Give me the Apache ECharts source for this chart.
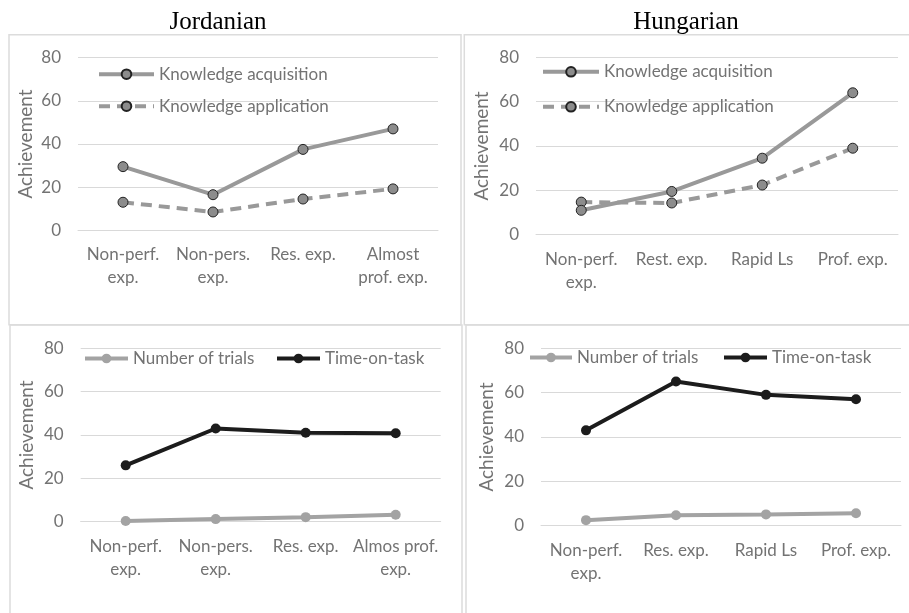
<!DOCTYPE html>
<html>
<head>
<meta charset="utf-8">
<script src="https://cdn.jsdelivr.net/npm/echarts@6/dist/echarts.min.js"></script>
<style>
  html, body { margin: 0; padding: 0; background: #fff; }
  #chart { width: 909px; height: 613px; }
</style>
</head>
<body>
<div id="chart"></div>
<script>
// Category labels per panel
const jorCatsTop = ['Non-perf.\nexp.', 'Non-pers.\nexp.', 'Res. exp.', 'Almost\nprof. exp.'];
const hunCatsTop = ['Non-perf.\nexp.', 'Rest. exp.', 'Rapid Ls', 'Prof. exp.'];
const jorCatsBottom = ['Non-perf.\nexp.', 'Non-pers.\nexp.', 'Res. exp.', 'Almos prof.\nexp.'];
const hunCatsBottom = ['Non-perf.\nexp.', 'Res. exp.', 'Rapid Ls', 'Prof. exp.'];

// Achievement values
const jorAcquisition = [29.5, 16.5, 37.5, 47];
const jorApplication = [13, 8.5, 14.5, 19.2];
const hunAcquisition = [11, 19.5, 34.5, 64];
const hunApplication = [14.7, 14.3, 22.4, 39];
const jorTrials = [0.3, 1.2, 2.1, 3.2];
const jorTime = [26, 43, 41, 40.8];
const hunTrials = [2.5, 4.7, 5.1, 5.6];
const hunTime = [43, 65, 59, 57];

// Shared y ticks
const yMin = 0, yMax = 80, yStep = 20;

const FONT = 'Lato';
const TEXT = '#737373';
const GRID_LINE = '#d9d9d9';
const GRAY_LINE = '#999999';
const GRAY_MARK = '#8c8c8c';
const LIGHT_GRAY = '#a3a3a3';
const DARK = '#1c1c1c';

const grids = [
  { left: 78, top: 57.7, width: 360, height: 172.6 },
  { left: 536, top: 57.3, width: 362, height: 177.4 },
  { left: 80.7, top: 348.3, width: 360, height: 173.4 },
  { left: 541, top: 348.3, width: 360, height: 177.4 }
];
const nameGaps = [43, 45, 44, 45];
const cats = [jorCatsTop, hunCatsTop, jorCatsBottom, hunCatsBottom];

const xAxes = cats.map((c, i) => ({
  type: 'category', gridIndex: i, data: c, boundaryGap: true,
  axisLine: { lineStyle: { color: GRID_LINE, width: 1 } },
  axisTick: { show: false },
  axisLabel: { interval: 0, color: TEXT, fontFamily: FONT, fontSize: 17, lineHeight: 23, margin: 13 }
}));
const yAxes = grids.map((g, i) => ({
  type: 'value', gridIndex: i, min: yMin, max: yMax, interval: yStep,
  name: 'Achievement', nameLocation: 'middle', nameRotate: 90, nameGap: nameGaps[i],
  nameTextStyle: { color: TEXT, fontFamily: FONT, fontSize: 19 },
  axisLine: { show: false }, axisTick: { show: false },
  axisLabel: { color: TEXT, fontFamily: FONT, fontSize: 17, margin: 17 },
  splitLine: { lineStyle: { color: GRID_LINE, width: 1 } }
}));

function knowledgeSeries(name, data, idx, dashed) {
  return {
    name, type: 'line', xAxisIndex: idx, yAxisIndex: idx, data,
    symbol: 'circle', symbolSize: 10,
    lineStyle: { color: GRAY_LINE, width: 4, type: dashed ? [11, 7] : 'solid' },
    itemStyle: { color: GRAY_MARK, borderColor: '#222', borderWidth: 1 },
    z: dashed ? 2 : 3
  };
}
function taskSeries(name, data, idx, color) {
  return {
    name, type: 'line', xAxisIndex: idx, yAxisIndex: idx, data,
    symbol: 'circle', symbolSize: 10,
    lineStyle: { color, width: 4 },
    itemStyle: { color, borderWidth: 0 }
  };
}

const series = [
  knowledgeSeries('Knowledge acquisition', jorAcquisition, 0, false),
  knowledgeSeries('Knowledge application', jorApplication, 0, true),
  knowledgeSeries('Knowledge acquisition', hunAcquisition, 1, false),
  knowledgeSeries('Knowledge application', hunApplication, 1, true),
  taskSeries('Number of trials', jorTrials, 2, LIGHT_GRAY),
  taskSeries('Time-on-task', jorTime, 2, DARK),
  taskSeries('Number of trials', hunTrials, 3, LIGHT_GRAY),
  taskSeries('Time-on-task', hunTime, 3, DARK)
];

const legendText = { color: TEXT, fontFamily: FONT, fontSize: 17 };
const legends = [
  { data: ['Knowledge acquisition', 'Knowledge application'], orient: 'vertical', left: 97, top: 65.7, itemWidth: 55, itemHeight: 12, itemGap: 15 },
  { data: ['Knowledge acquisition', 'Knowledge application'], orient: 'vertical', left: 541, top: 63.3, itemWidth: 56, itemHeight: 12, itemGap: 18 },
  { data: ['Number of trials'], left: 83, top: 350, itemWidth: 43, itemHeight: 12 },
  { data: ['Time-on-task'], left: 275, top: 350, itemWidth: 43, itemHeight: 12 },
  { data: ['Number of trials'], left: 528, top: 349, itemWidth: 42, itemHeight: 12 },
  { data: ['Time-on-task'], left: 722, top: 349, itemWidth: 43, itemHeight: 12 }
].map(l => Object.assign({ textStyle: legendText, selectedMode: false, padding: 0, lineStyle: { width: 4 } }, l));

// Panel frames
const frameStyle = { fill: 'none', stroke: '#dcdcdc', lineWidth: 1.5 };
const frames = [
  [9, 34.7, 452, 290],
  [464.3, 34.7, 450, 290],
  [10, 325, 452, 295],
  [466, 325, 450, 295]
].map(([x, y, w, h]) => ({ type: 'rect', shape: { x, y, width: w, height: h }, style: frameStyle, silent: true, z: -1 }));

const chart = echarts.init(document.getElementById('chart'));
chart.setOption({
  animation: false,
  backgroundColor: '#fff',
  title: [
    { text: 'Jordanian', left: 213, top: 5, textAlign: 'center', textStyle: { fontFamily: 'Liberation Serif', fontSize: 25, fontWeight: 'normal', color: '#000' } },
    { text: 'Hungarian', left: 681, top: 5, textAlign: 'center', textStyle: { fontFamily: 'Liberation Serif', fontSize: 25, fontWeight: 'normal', color: '#000' } }
  ],
  legend: legends,
  grid: grids,
  xAxis: xAxes,
  yAxis: yAxes,
  series,
  graphic: frames
});
</script>
</body>
</html>
